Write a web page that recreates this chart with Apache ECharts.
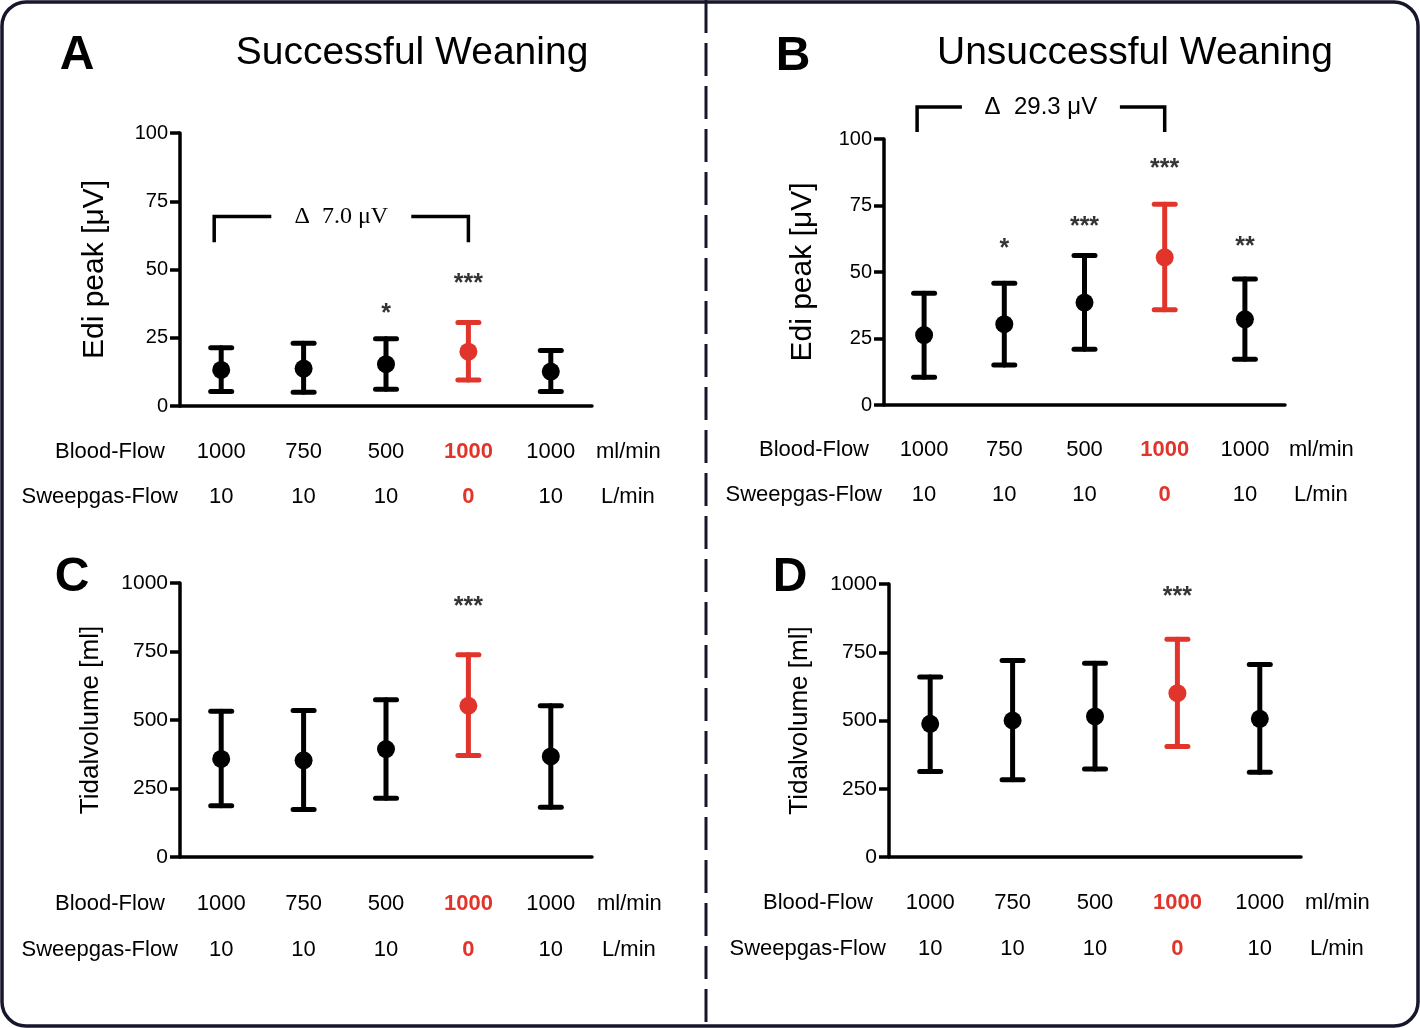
<!doctype html>
<html lang="en">
<head>
    <meta charset="UTF-8">
    <title>Weaning - Edi peak and Tidalvolume</title>
    <script src="https://cdn.jsdelivr.net/npm/echarts@6/dist/echarts.min.js"></script>
    <style>
        html, body { margin: 0; padding: 0; background: #fff; }
        #main { width: 1420px; height: 1028px; }
    </style>
</head>
<body>
<div id="main"></div>
<script type="text/javascript">
    // categories (two label rows under each panel)
    var bloodFlow = ['1000', '750', '500', '1000', '1000'];
    var sweepFlow = ['10', '10', '10', '0', '10'];
    var highlightIdx = 3;

    // A - Edi peak, successful weaning
    var ediSuccMean = [13.2, 13.7, 15.3, 19.9, 12.6];
    var ediSuccLow  = [5.3, 5.0, 6.1, 9.5, 5.3];
    var ediSuccHigh = [21.3, 23.0, 24.6, 30.6, 20.3];
    // B - Edi peak, unsuccessful weaning
    var ediFailMean = [26.3, 30.4, 38.5, 55.5, 32.2];
    var ediFailLow  = [10.4, 15.0, 21.0, 35.8, 17.2];
    var ediFailHigh = [42.0, 45.8, 56.2, 75.5, 47.4];
    // C - Tidalvolume, successful weaning
    var vtSuccMean = [358, 353, 394, 552, 367];
    var vtSuccLow  = [187, 173, 214, 370, 182];
    var vtSuccHigh = [532, 535, 574, 738, 552];
    // D - Tidalvolume, unsuccessful weaning
    var vtFailMean = [488, 500, 515, 600, 506];
    var vtFailLow  = [313, 283, 322, 405, 310];
    var vtFailHigh = [659, 720, 710, 798, 705];

    // significance stars and where they sit (axis units)
    var starsA = ['', '', '*', '***', ''];
    var starsAY = [0, 0, 33.8, 44.8, 0];
    var starsB = ['', '*', '***', '***', '**'];
    var starsBY = [0, 58.5, 66.8, 88.5, 59.5];
    var starsC = ['', '', '', '***', ''];
    var starsCY = [0, 0, 0, 913, 0];
    var starsD = ['', '', '', '***', ''];
    var starsDY = [0, 0, 0, 953, 0];

    // delta brackets [fromIdx, toIdx, topValue, bottomValue]
    var bracketA = [0, 3, 69.4, 60];
    var bracketB = [0, 3, 112, 102.6];

    // y ticks [min, max, step]
    var ediTicks = [0, 100, 25];
    var vtTicks = [0, 1000, 250];

    var RED = '#e1342a';
    var INK = '#16162c';
    var FONT = '"Liberation Sans", Arial, Helvetica, sans-serif';

    var myChart = echarts.init(document.getElementById('main'));

    var grids = [
        {left: 180, top: 133, width: 412, height: 273},
        {left: 884, top: 139, width: 401, height: 266},
        {left: 180, top: 583, width: 412, height: 274},
        {left: 889, top: 584, width: 412, height: 273}
    ];
    grids.forEach(function (g) { g.outerBoundsMode = 'none'; g.containLabel = false; });

    function xAxisFor(gi, margin, lh) {
        return {
            type: 'category',
            gridIndex: gi,
            data: ['0', '1', '2', '3', '4'],
            boundaryGap: true,
            axisLine: {lineStyle: {color: '#000', width: 3.5}},
            axisTick: {alignWithLabel: true, length: 10, lineStyle: {color: '#000', width: 3.5}},
            axisLabel: {
                interval: 0,
                margin: margin,
                formatter: function (v, i) {
                    var k = i === highlightIdx ? 'r' : 'b';
                    return '{' + k + '|' + bloodFlow[i] + '}\n{' + k + '|' + sweepFlow[i] + '}';
                },
                rich: {
                    b: {fontSize: 22, color: '#000', fontFamily: FONT, lineHeight: lh},
                    r: {fontSize: 22, color: RED, fontWeight: 'bold', fontFamily: FONT, lineHeight: lh}
                }
            }
        };
    }

    function yAxisFor(gi, ticks, name, nameSize, labelSize, gap) {
        return {
            type: 'value',
            gridIndex: gi,
            min: ticks[0],
            max: ticks[1],
            interval: ticks[2],
            name: name,
            nameLocation: 'middle',
            nameGap: gap,
            nameTextStyle: {fontSize: nameSize, color: '#000', fontFamily: FONT},
            axisLine: {show: true, lineStyle: {color: '#000', width: 3.5}},
            axisTick: {show: true, length: 10, lineStyle: {color: '#000', width: 3.5}},
            axisLabel: {
                fontSize: labelSize, color: '#000', fontFamily: FONT, margin: 12,
                formatter: function (v) { return String(v); }
            },
            splitLine: {show: false}
        };
    }

    function errorBars(gi, low, high) {
        return {
            type: 'custom',
            xAxisIndex: gi,
            yAxisIndex: gi,
            data: low.map(function (l, i) { return [i, l, high[i]]; }),
            encode: {x: 0, y: [1, 2]},
            renderItem: function (params, api) {
                var x = api.value(0);
                var lo = api.coord([x, api.value(1)]);
                var hi = api.coord([x, api.value(2)]);
                var c = x === highlightIdx ? RED : '#000';
                var st = {stroke: c, lineWidth: 5, lineCap: 'round'};
                return {
                    type: 'group',
                    children: [
                        {type: 'line', shape: {x1: lo[0], y1: lo[1], x2: hi[0], y2: hi[1]}, style: st},
                        {type: 'line', shape: {x1: hi[0] - 10.5, y1: hi[1], x2: hi[0] + 10.5, y2: hi[1]}, style: st},
                        {type: 'line', shape: {x1: lo[0] - 10.5, y1: lo[1], x2: lo[0] + 10.5, y2: lo[1]}, style: st}
                    ]
                };
            },
            z: 2
        };
    }

    function means(gi, mean) {
        return {
            type: 'scatter',
            xAxisIndex: gi,
            yAxisIndex: gi,
            symbolSize: 18,
            data: mean.map(function (m, i) {
                return {value: [i, m], itemStyle: {color: i === highlightIdx ? RED : '#000', opacity: 1}};
            }),
            z: 3
        };
    }

    function stars(gi, marks, ys) {
        var d = [];
        marks.forEach(function (s, i) { if (s) d.push({value: [i, ys[i]], name: s}); });
        return {
            type: 'scatter',
            xAxisIndex: gi,
            yAxisIndex: gi,
            symbolSize: 1,
            itemStyle: {color: 'rgba(0,0,0,0)'},
            label: {
                show: true,
                position: 'inside',
                formatter: function (p) { return p.name; },
                fontSize: 25,
                fontWeight: 'bold',
                color: '#000',
                fontFamily: FONT
            },
            data: d,
            z: 4
        };
    }

    function bracket(gi, b, text, halfGap, textFont) {
        return {
            type: 'custom',
            xAxisIndex: gi,
            yAxisIndex: gi,
            clip: false,
            data: [b],
            renderItem: function (params, api) {
                var lt = api.coord([api.value(0), api.value(2)]);
                var rt = api.coord([api.value(1), api.value(2)]);
                var lb = api.coord([api.value(0), api.value(3)]);
                var rb = api.coord([api.value(1), api.value(3)]);
                var x0 = lt[0] - 7, x1 = rt[0];
                var mid = (x0 + x1) / 2;
                var st = {stroke: '#000', lineWidth: 3.5, fill: null};
                return {
                    type: 'group',
                    children: [
                        {type: 'polyline', shape: {points: [[x0, lb[1]], [x0, lt[1]], [mid - halfGap, lt[1]]]}, style: st},
                        {type: 'polyline', shape: {points: [[mid + halfGap, rt[1]], [x1, rt[1]], [x1, rb[1]]]}, style: st},
                        {type: 'text', x: mid, y: lt[1], style: {
                            text: text, fill: '#000', font: textFont, align: 'center', verticalAlign: 'middle'
                        }}
                    ]
                };
            }
        };
    }

    function txt(x, y, s, size, opts) {
        opts = opts || {};
        return {
            type: 'text', x: x, y: y,
            style: {
                text: s,
                fill: opts.fill || '#000',
                font: (opts.weight || 'normal') + ' ' + size + 'px ' + FONT,
                align: opts.align || 'center',
                verticalAlign: 'middle'
            }
        };
    }

    var graphics = [
        {type: 'rect', shape: {x: 2, y: 2, width: 1416, height: 1024, r: 24},
            style: {fill: null, stroke: INK, lineWidth: 3.5}},
        {type: 'line', shape: {x1: 706, y1: 0, x2: 706, y2: 1028},
            style: {stroke: INK, lineWidth: 3, lineDash: [33, 10]}},
        txt(77, 56, 'A', 48, {weight: 'bold'}),
        txt(793, 57, 'B', 48, {weight: 'bold'}),
        txt(72, 578, 'C', 48, {weight: 'bold'}),
        txt(790, 578, 'D', 48, {weight: 'bold'}),
        txt(412, 53, 'Successful Weaning', 39),
        txt(1135, 53, 'Unsuccessful Weaning', 39)
    ];

    // row labels and units for each panel: [labelX1, labelX2, unitX, row1Y, row2Y]
    var rows = [
        [165, 178, 596, 452, 497],
        [869, 882, 1289, 450, 495],
        [165, 178, 597, 904, 950],
        [873, 886, 1305, 903, 949]
    ];
    rows.forEach(function (r) {
        graphics.push(txt(r[0], r[3], 'Blood-Flow', 22, {align: 'right'}));
        graphics.push(txt(r[1], r[4], 'Sweepgas-Flow', 22, {align: 'right'}));
        graphics.push(txt(r[2], r[3], 'ml/min', 22, {align: 'left'}));
        graphics.push(txt(r[2] + 5, r[4], 'L/min', 22, {align: 'left'}));
    });

    var option = {
        animation: false,
        backgroundColor: '#fff',
        grid: grids,
        xAxis: [
            xAxisFor(0, 23, 45),
            xAxisFor(1, 22, 45),
            xAxisFor(2, 24, 46),
            xAxisFor(3, 23, 46)
        ],
        yAxis: [
            yAxisFor(0, ediTicks, 'Edi peak [μV]', 30, 20, 70),
            yAxisFor(1, ediTicks, 'Edi peak [μV]', 30, 20, 66),
            yAxisFor(2, vtTicks, 'Tidalvolume [ml]', 26, 21, 76),
            yAxisFor(3, vtTicks, 'Tidalvolume [ml]', 26, 21, 76)
        ],
        series: [
            errorBars(0, ediSuccLow, ediSuccHigh), means(0, ediSuccMean), stars(0, starsA, starsAY),
            errorBars(1, ediFailLow, ediFailHigh), means(1, ediFailMean), stars(1, starsB, starsBY),
            errorBars(2, vtSuccLow, vtSuccHigh), means(2, vtSuccMean), stars(2, starsC, starsCY),
            errorBars(3, vtFailLow, vtFailHigh), means(3, vtFailMean), stars(3, starsD, starsDY),
            bracket(0, bracketA, 'Δ  7.0 μV', 70, '24px "Liberation Serif", "Times New Roman", serif'),
            bracket(1, bracketB, 'Δ  29.3 μV', 79, '24px ' + FONT)
        ],
        graphic: graphics
    };

    myChart.setOption(option);
</script>
</body>
</html>
